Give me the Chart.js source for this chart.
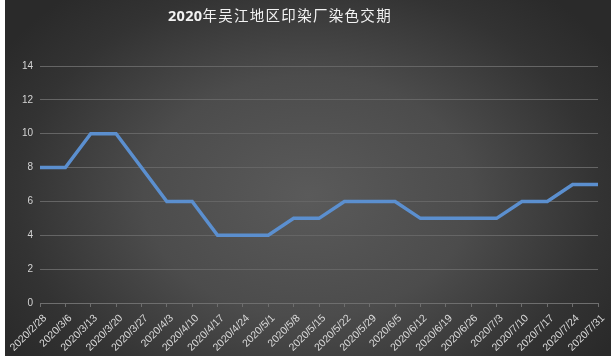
<!DOCTYPE html>
<html>
<head>
<meta charset="utf-8">
<script src="https://cdn.jsdelivr.net/npm/chart.js@4"></script>
<style>
  html, body { margin: 0; padding: 0; background: #ffffff; width: 615px; height: 361px; overflow: hidden; }
  #box { position: absolute; left: 5px; top: 0; width: 606px; height: 356px;
         background: radial-gradient(ellipse 60% 75% at 50% 55%, #5a5a5a 0%, #4c4c4c 45%, #333333 80%, #2a2a2a 100%); }
  #title { position: absolute; left: 163px; top: 5px; font-family: "Noto Sans CJK SC", sans-serif;
           font-size: 14.5px; color: #f2f2f2; letter-spacing: 1.3px; white-space: nowrap; line-height: 20px; }
  #title b { font-family: "Open Sans", "Liberation Sans", sans-serif; font-weight: bold; letter-spacing: 0.3px; }
  canvas { position: absolute; left: 0; top: 0; }
</style>
</head>
<body>
<div id="box">
  <canvas id="c" width="606" height="356"></canvas>
  <div id="title"><b>2020</b>年吴江地区印染厂染色交期</div>
</div>
<script>
const categories = ["2020/2/28","2020/3/6","2020/3/13","2020/3/20","2020/3/27","2020/4/3","2020/4/10","2020/4/17","2020/4/24","2020/5/1","2020/5/8","2020/5/15","2020/5/22","2020/5/29","2020/6/5","2020/6/12","2020/6/19","2020/6/26","2020/7/3","2020/7/10","2020/7/17","2020/7/24","2020/7/31"];
const deliveryWeeks = [8,8,10,10,8,6,6,4,4,4,5,5,6,6,6,5,5,5,5,6,6,7,7];
const yTicks = [0,2,4,6,8,10,12,14];

new Chart(document.getElementById('c'), {
  type: 'line',
  data: {
    labels: categories,
    datasets: [{
      data: deliveryWeeks,
      borderColor: '#5b8fcf',
      borderWidth: 3.5,
      pointRadius: 0,
      tension: 0,
      fill: false
    }]
  },
  options: {
    responsive: false,
    animation: false,
    layout: { padding: { left: 0, right: 13, top: 66, bottom: 0 } },
    plugins: { legend: { display: false }, tooltip: { enabled: false }, title: { display: false } },
    scales: {
      x: {
        offset: false,
        grid: { display: true, drawOnChartArea: false, drawTicks: true, tickLength: 4, color: '#6e6e6e' },
        border: { display: true, color: '#6e6e6e', width: 1 },
        ticks: { autoSkip: false, minRotation: 45, maxRotation: 45, color: '#dadada', padding: 5, labelOffset: 5,
                 font: { family: 'Liberation Sans, sans-serif', size: 10.5 } },
        afterFit(axis) { axis.height = 53; axis.paddingLeft = 0; axis.paddingRight = 0; }
      },
      y: {
        min: 0, max: 14,
        afterBuildTicks(axis) { axis.ticks = yTicks.map(v => ({ value: v })); },
        grid: { color: '#656565', lineWidth: 1, drawTicks: false },
        border: { display: false },
        ticks: { color: '#d4d4d4', padding: 7, font: { family: 'Liberation Sans, sans-serif', size: 10 } },
        afterFit(axis) { axis.width = 35; }
      }
    }
  }
});
</script>
</body>
</html>
